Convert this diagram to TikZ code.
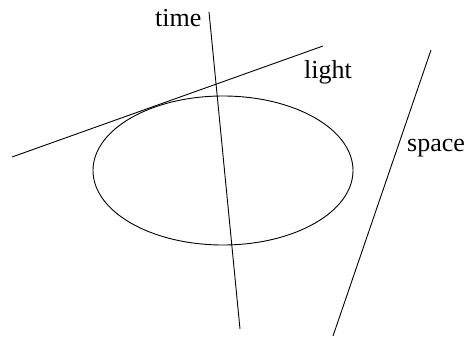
\documentclass[tikz,border=0pt]{standalone}
\usepackage{fontspec}
\setmainfont{Liberation Serif}
\begin{document}
\begin{tikzpicture}[x=1pt,y=-1pt,
  ln/.style={line width=0.9pt},
  lbl/.style={anchor=base west,inner sep=0pt,font=\fontsize{26}{30}\selectfont}]
\useasboundingbox (0,0) rectangle (465,337);
\coordinate (t1) at (209,12);
\coordinate (t2) at (240,329);
\coordinate (l1) at (12,157);
\coordinate (l2) at (323,46);
\coordinate (s1) at (431,50);
\coordinate (s2) at (333,336);
\coordinate (c) at (223,170.5);
\draw[ln] (c) ellipse [x radius=130, y radius=74.5];
\draw[ln] (t1) -- (t2);
\draw[ln] (l1) -- (l2);
\draw[ln] (s1) -- (s2);
\node[lbl] (time) at (155,27) {time};
\node[lbl] (light) at (304,78) {light};
\node[lbl] (space) at (407,151) {space};
\end{tikzpicture}
\end{document}
